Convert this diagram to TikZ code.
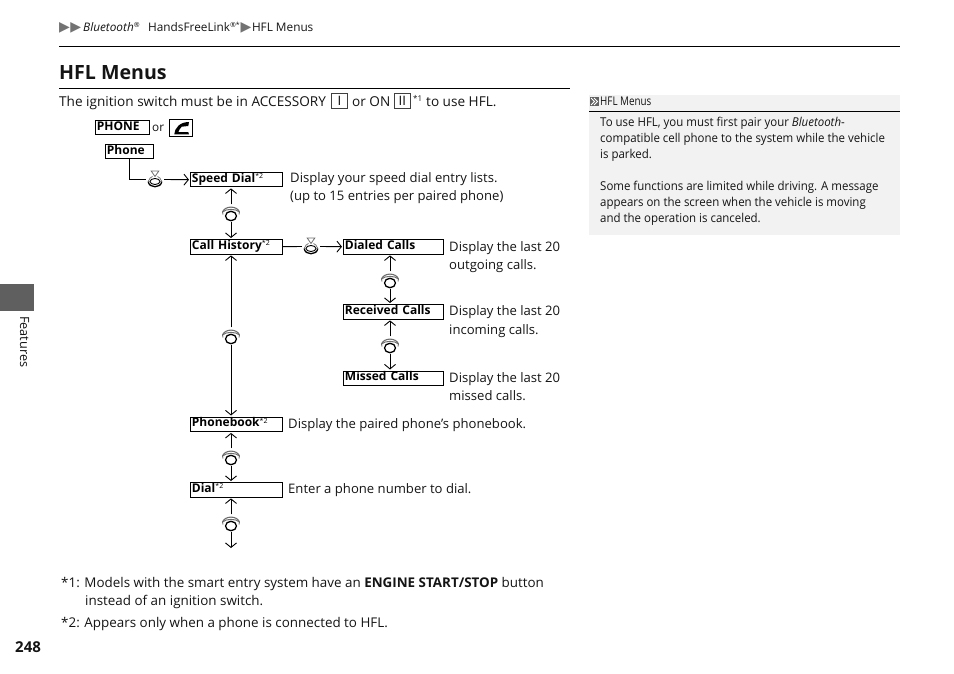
\documentclass[tikz,border=0pt]{standalone}
\usepackage{fontspec}
\setmainfont{Open Sans}
\newfontfamily\symf{DejaVu Sans}
\newfontfamily\narrowf[FakeStretch=0.82]{Open Sans}
\newfontfamily\notef[FakeStretch=0.94]{Open Sans}
\usetikzlibrary{arrows.meta}
\definecolor{sidegray}{HTML}{5F5F5F}
\definecolor{notegray}{HTML}{F2F2F2}
\definecolor{icongray}{HTML}{6E6E6E}
\tikzset{
  x=1pt,y=-1pt,
  txt/.style={anchor=base west,inner sep=0pt,font=\fontsize{13.1}{16}\selectfont,text=black!92},
  intro/.style={txt,font=\fontsize{13.6}{16}\selectfont},
  foot/.style={txt,font=\fontsize{13.4}{16}\selectfont},
  small/.style={txt,font=\fontsize{11.8}{14}\selectfont},
  notetxt/.style={txt,font=\fontsize{12.2}{14}\selectfont},
  menubox/.style={draw=black,line width=0.9pt,anchor=north west,inner xsep=1.5pt,inner ysep=0pt,
    minimum width=#1,text width=#1-3pt,
    text height=10pt,text depth=4.5pt,align=left,font=\fontsize{12}{13}\bfseries\selectfont},
  keycap/.style={draw=black!75,line width=0.7pt,anchor=north west,inner sep=0pt,minimum width=16pt,minimum height=15pt,
    font=\fontsize{13}{15}\selectfont},
  iconspot/.style={inner sep=0pt,minimum width=18pt,minimum height=17pt},
  link/.style={line width=0.9pt,black},
  arrowlink/.style={link,-{Straight Barb[length=4.5pt,width=11pt,line width=0.9pt]},shorten >=1pt},
  rule/.style={line width=1.2pt,black},
  pics/rotknob/.style={code={
    \draw[icongray,line width=1.1pt] (-8.5,-1) .. controls (-6,-7.5) and (6,-7.5) .. (8.5,-1);
    \draw[icongray,line width=1pt] (-8.5,-1) .. controls (-5,-4.5) and (5,-4.5) .. (8.5,-1);
    \draw[icongray,line width=0.8pt] (-8.5,-1) -- (-8,1.5) (8.5,-1) -- (8,1.5);
    \draw[black,line width=1.3pt] (0,3) circle[x radius=5.5pt,y radius=4.7pt];
  }},
  pics/pressknob/.style={code={
    \draw[icongray,line width=0.8pt] (-3.8,-8.5) -- (3.8,-8.5) -- (0,-3) -- cycle;
    \draw[black,line width=0.9pt] (0,2) circle[x radius=5pt,y radius=3pt];
    \draw[black,line width=1.3pt] (-6.8,2) .. controls (-6,9) and (6,9) .. (6.8,2);
    \draw[icongray,line width=0.7pt] (-6.8,2) .. controls (-6,-1) and (-4,-2.5) .. (-2.5,-3);
    \draw[icongray,line width=0.7pt] (6.8,2) .. controls (6,-1) and (4,-2.5) .. (2.5,-3);
  }},
}
\newcommand{\supm}[1]{\raisebox{3.5pt}{\normalfont\fontsize{7}{7}\selectfont #1}}
\newcommand{\tri}{{\symf\fontsize{14}{14}\selectfont\textcolor{black!55}{▶}}}
\begin{document}
\begin{tikzpicture}
\useasboundingbox (0,0) rectangle (954,674);
% side tab, note background
\fill[sidegray] (0,284) rectangle (34,311);
\fill[notegray] (589,95) rectangle (900,235);
% header
\node[small] (crumb) at (59,31.5) {\tri\kern0.5pt\tri\kern2pt\textit{Bluetooth}\textsuperscript{\fontsize{7}{7}\selectfont®}\kern5pt{} HandsFreeLink\textsuperscript{\fontsize{7}{7}\selectfont®*}\kern0.5pt\tri\kern0.5pt HFL Menus};
\draw[rule] (59,46.5) -- (900,46.5);
\node[txt,font=\fontsize{19.6}{24}\bfseries\selectfont] (title) at (59,79.5) {HFL Menus};
\draw[rule] (59,88.5) -- (570,88.5);
% intro
\node[intro] (introa) at (59,106.5) {The ignition switch must be in ACCESSORY};
\node[keycap] (keyI) at (331,93) {I};
\node[intro] (orOn) at (352,106.5) {or ON};
\node[keycap] (keyII) at (394,93) {II};
\node[txt,font=\fontsize{8}{8}\selectfont] (fnA) at (413,102) {*1};
\node[intro] (useHfl) at (426,106.5) {to use HFL.};
% buttons
\node[menubox=54pt] (phoneBtn) at (95,120) {PHONE};
\node[small] (orW) at (152,131.5) {or};
\node[draw=black,line width=0.9pt,anchor=north west,minimum width=23pt,minimum height=17pt,inner sep=0pt] (phoneKey) at (169,119) {};
\begin{scope}[shift={(phoneKey.north west)}]
\fill[black] (5.3,15.3) .. controls (5.5,9) and (11,3) .. (20,3) -- (19.3,7) -- (12.7,7.7)
  .. controls (11,9) and (10,11.5) .. (9.3,13.2) -- (19.3,13.2) -- (20,15.3) -- cycle;
\end{scope}
% menu boxes
\node[menubox=48pt] (phoneM) at (105,144) {Phone};
\node[menubox=91.5pt] (speed) at (190,172) {Speed Dial\supm{*2}};
\node[menubox=91.5pt] (hist) at (190,239) {Call History\supm{*2}};
\node[menubox=100pt] (dialed) at (343,239) {Dialed Calls};
\node[menubox=100pt] (recv) at (343,304) {Received Calls};
\node[menubox=100pt] (missed) at (343,370.5) {Missed Calls};
\node[menubox=91.5pt] (book) at (190,416.5) {Phonebook\supm{*2}};
\node[menubox=91.5pt] (dial) at (190,482) {Dial\supm{*2}};
% icon anchors
\node[iconspot] (p1) at (155,179.5) {}; \pic at (p1) {pressknob};
\node[iconspot] (p2) at (311,246.5) {}; \pic at (p2) {pressknob};
\node[iconspot] (r1) at (231,213) {}; \pic at (r1) {rotknob};
\node[iconspot] (r2) at (231,336) {}; \pic at (r2) {rotknob};
\node[iconspot] (r3) at (231,457) {}; \pic at (r3) {rotknob};
\node[iconspot] (r4) at (231,523) {}; \pic at (r4) {rotknob};
\node[iconspot] (r5) at (390,280) {}; \pic at (r5) {rotknob};
\node[iconspot] (r6) at (390,345) {}; \pic at (r6) {rotknob};
\coordinate (tail) at (231,549);
% connectors
\draw[link] (phoneM.south) |- (p1.west);
\draw[arrowlink] (p1.east) -- (speed.west);
\draw[link] (hist.east) -- (p2.west);
\draw[arrowlink] (p2.east) -- (dialed.west);
\foreach \ic/\up/\dn in {r1/speed/hist,r2/hist/book,r3/book/dial,r5/dialed/recv,r6/recv/missed}{
  \draw[arrowlink] (\ic.north) -- (\up.south -| \ic);
  \draw[arrowlink] (\ic.south) -- (\dn.north -| \ic);
}
\draw[arrowlink] (r4.north) -- (dial.south -| r4);
\draw[arrowlink] (r4.south) -- (tail);
% descriptions
\node[txt] (d1a) at (290,182.5) {Display your speed dial entry lists.};
\node[txt] (d1b) at (290,200.5) {(up to 15 entries per paired phone)};
\node[txt] (d2a) at (449,251.5) {Display the last 20};
\node[txt] (d2b) at (449,269.5) {outgoing calls.};
\node[txt] (d3a) at (449,315.5) {Display the last 20};
\node[txt] (d3b) at (449,334.5) {incoming calls.};
\node[txt] (d4a) at (449,382.5) {Display the last 20};
\node[txt] (d4b) at (449,400.5) {missed calls.};
\node[txt] (d5) at (288,428.5) {Display the paired phone’s phonebook.};
\node[txt] (d6) at (288,493.5) {Enter a phone number to dial.};
% footnotes
\node[foot] (f1a) at (61,587) {*1: Models with the smart entry system have an \textbf{ENGINE START/STOP} button};
\node[foot] (f1b) at (85,605) {instead of an ignition switch.};
\node[foot] (f2) at (61,627) {*2: Appears only when a phone is connected to HFL.};
\node[txt,font=\fontsize{15}{16}\bfseries\selectfont] (page) at (15,652) {248};
\node[txt,font=\fontsize{12.7}{14}\selectfont,rotate=-90,anchor=base west] (side) at (20,316) {Features};
% note
\node[txt,font=\fontsize{12}{13}\selectfont] (nt) at (600,106) {\narrowf HFL Menus};
\fill[black!62] (590,97) rectangle (599,106);
\draw[white,line width=1pt] (591,98) -- (594.5,101.5) -- (591,105) (594,98) -- (597.5,101.5) -- (594,105);
\draw[line width=0.9pt,black] (589,111.5) -- (900,111.5);
\node[notetxt] (n1) at (600,126.5) {\notef To use HFL, you must first pair your \textit{Bluetooth}-};
\node[notetxt] (n2) at (600,143) {\notef compatible cell phone to the system while the vehicle};
\node[notetxt] (n3) at (600,159) {\notef is parked.};
\node[notetxt] (n4) at (600,190) {\notef Some functions are limited while driving. A message};
\node[notetxt] (n5) at (600,206.5) {\notef appears on the screen when the vehicle is moving};
\node[notetxt] (n6) at (600,222.5) {\notef and the operation is canceled.};
\end{tikzpicture}
\end{document}
